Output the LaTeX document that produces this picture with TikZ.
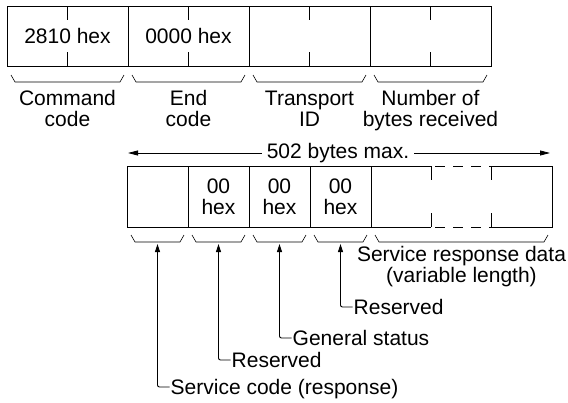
\documentclass[tikz,border=0pt]{standalone}
\usepackage{fontspec}
\setmainfont{Liberation Sans}
\usetikzlibrary{
	arrows.meta,
	positioning
}

\begin{document}
\begin{tikzpicture}[x=1pt, y=-1pt,
		cell/.style={draw, line width=0.9pt, inner sep=0pt, outer sep=0pt, minimum width=121pt, minimum height=60pt, align=center, font=\fontsize{21}{21}\selectfont},
		bcell/.style={cell, minimum width=61pt, minimum height=61pt},
		lbl/.style={inner sep=0pt, align=center, font=\fontsize{21}{21}\selectfont},
		tag/.style={anchor=west, inner sep=1pt, text height=15pt, text depth=0pt, font=\fontsize{21}{21}\selectfont},
		brc/.style={line width=0.6pt},
		limarr/.style={line width=0.8pt, -{Triangle[length=10pt,width=5pt]}},
		uparr/.style={line width=0.9pt, rounded corners=2pt, -{Triangle[length=8pt,width=5pt]}}]
		\useasboundingbox (0,0) rectangle (568,402);
		
		% command header
		\node[cell] (cmd) at (67.5,36) {2810 hex};
		\node[cell, right=0pt of cmd] (endc) {0000 hex};
		\node[cell, right=0pt of endc] (tid) {};
		\node[cell, right=0pt of tid] (nrcv) {};
		\foreach \n in {cmd,endc,tid,nrcv} {
			\draw[line width=0.9pt] (\n.north) -- ([yshift=-14pt]\n.north);
			\draw[line width=0.9pt] (\n.south) -- ([yshift=14pt]\n.south);
			\draw[brc] ([xshift=4pt,yshift=-9pt]\n.south west) -- ++(4,7) -- ([xshift=-8pt,yshift=-16pt]\n.south east) -- ++(4,-7);
		}
		\node[lbl, anchor=base] (cmdl) at ([yshift=-60pt]cmd.south) {Command\\code};
		\node[lbl, anchor=base] (endl) at ([yshift=-60pt]endc.south) {End\\code};
		\node[lbl, anchor=base] (tidl) at ([yshift=-60pt]tid.south) {Transport\\ID};
		\node[lbl, anchor=base] (nrcvl) at ([yshift=-60pt]nrcv.south) {Number of\\bytes received};
		
		% 502 bytes max.
		\coordinate (limL) at (128,153);
		\coordinate (limR) at (550,153);
		\node[lbl, fill=white, inner xsep=5pt, anchor=base] (lim) at (338,158) {502 bytes max.};
		\draw[limarr] (lim.west |- limL) -- (limL);
		\draw[limarr] (lim.east |- limR) -- (limR);
		
		% response data
		\node[bcell] (svc) at (157.5,196.5) {};
		\node[bcell, right=0pt of svc] (rsva) {00\\hex};
		\node[bcell, right=0pt of rsva] (gst) {00\\hex};
		\node[bcell, right=0pt of gst] (rsvb) {00\\hex};
		\node[bcell, draw=none, minimum width=181pt, right=0pt of rsvb] (data) {};
		\draw[line width=0.9pt] ([xshift=60pt]data.north west) -- (data.north west) -- (data.south west) -- ([xshift=60pt]data.south west);
		\draw[line width=0.9pt] ([xshift=-61pt]data.north east) -- (data.north east) -- (data.south east) -- ([xshift=-61pt]data.south east);
		\foreach \d in {60,120} {
			\draw[line width=0.9pt] ([xshift=\d pt]data.north west) -- ++(0,14);
			\draw[line width=0.9pt] ([xshift=\d pt]data.south west) -- ++(0,-14);
		}
		\draw[line width=0.9pt, dash pattern=on 10pt off 8pt, dash phase=14pt] ([xshift=60pt]data.north west) -- ([xshift=120pt]data.north west);
		\draw[line width=0.9pt, dash pattern=on 10pt off 8pt, dash phase=14pt] ([xshift=60pt]data.south west) -- ([xshift=120pt]data.south west);
		\foreach \n in {svc,rsva,gst,rsvb,data}
			\draw[brc] ([xshift=4pt,yshift=-8pt]\n.south west) -- ++(4,7) -- ([xshift=-8pt,yshift=-15pt]\n.south east) -- ++(4,-7);
		\node[lbl, anchor=base] (datal) at ([yshift=-55pt]data.south) {Service response data\\(variable length)};
		
		% field names
		\coordinate (svct) at ([yshift=-17pt]svc.south);
		\coordinate (rsvat) at ([yshift=-17pt]rsva.south);
		\coordinate (gstt) at ([yshift=-17pt]gst.south);
		\coordinate (rsvbt) at ([yshift=-17pt]rsvb.south);
		\node[tag] (rsvbl) at (352.5,307) {Reserved};
		\node[tag] (gstl) at (291.5,338) {General status};
		\node[tag] (rsval) at (230.5,360) {Reserved};
		\node[tag] (svcl) at (169.5,387) {Service code (response)};
		\draw[uparr] (rsvbl.west) -| (rsvbt);
		\draw[uparr] (gstl.west) -| (gstt);
		\draw[uparr] (rsval.west) -| (rsvat);
		\draw[uparr] (svcl.west) -| (svct);
	\end{tikzpicture}
\end{document}
